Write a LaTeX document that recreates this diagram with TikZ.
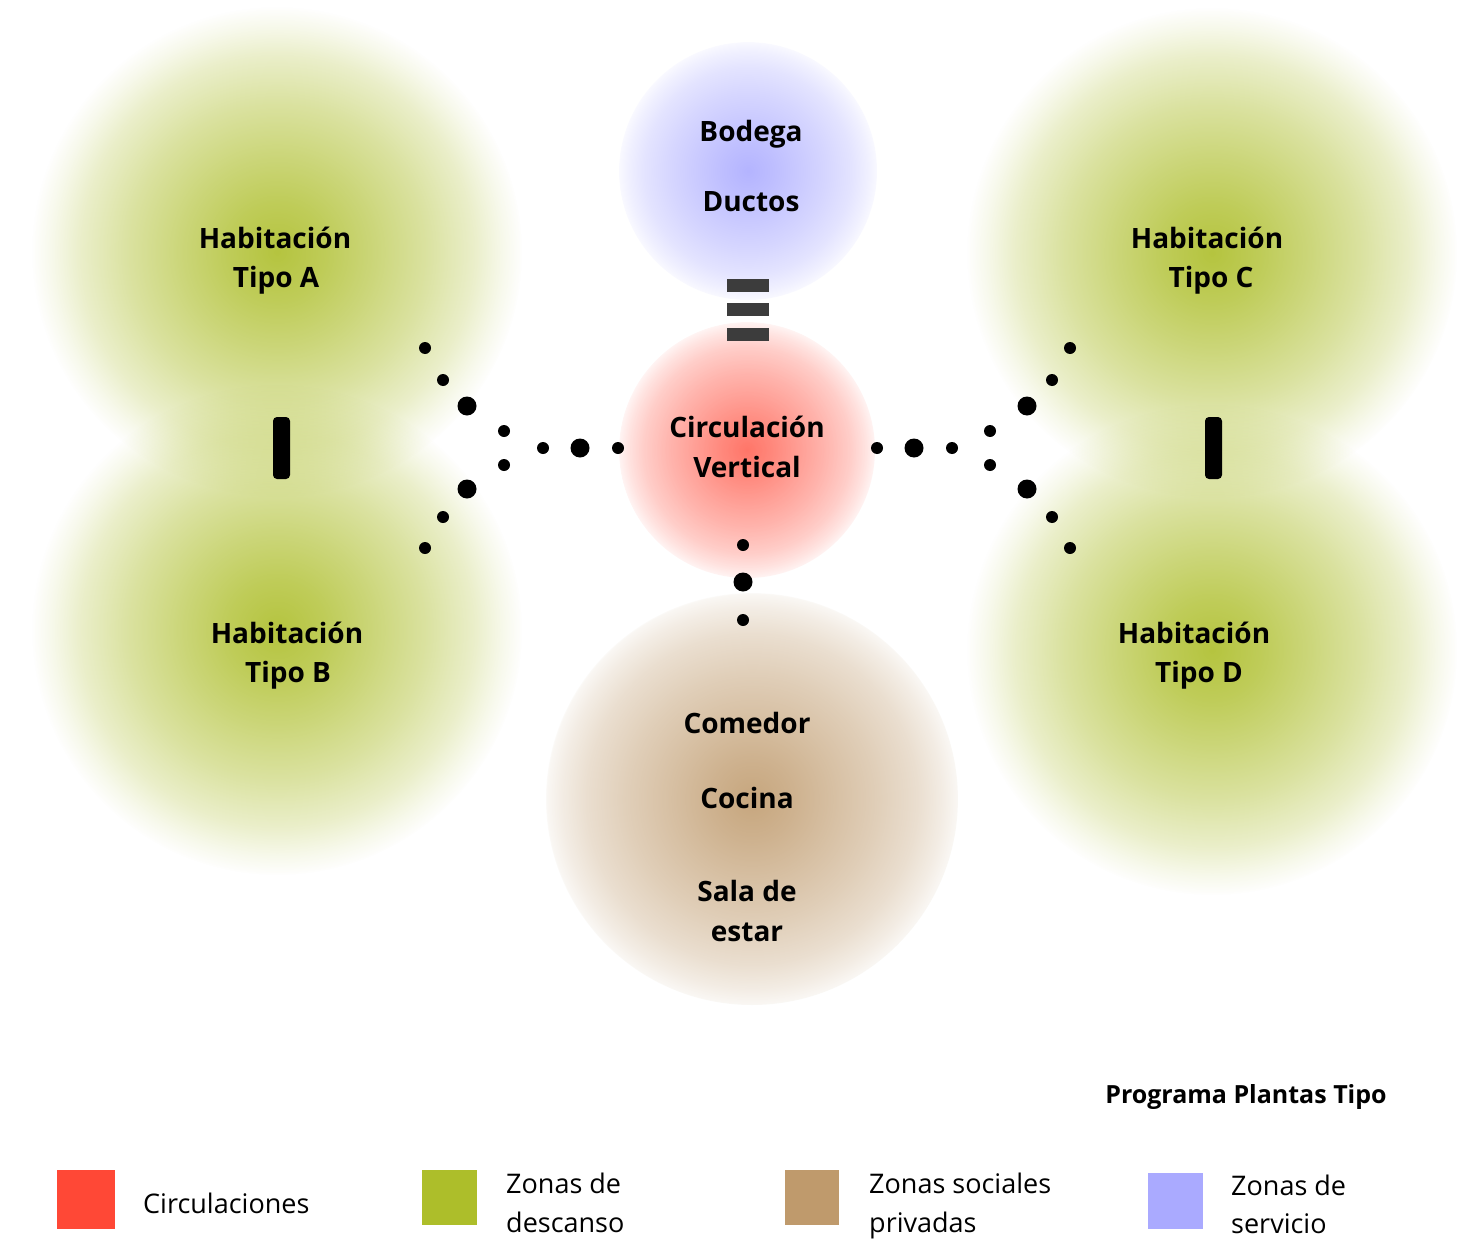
\documentclass[tikz,border=0pt]{standalone}
\usepackage{fontspec}
\setmainfont{Open Sans}
\usetikzlibrary{fadings}

% radial fade with a faint but visible rim
\pgfdeclareradialshading{rimfadeshade}{\pgfpointorigin}{%
  color(0bp)=(white!88!black);
  color(5bp)=(white!76!black);
  color(10bp)=(white!62!black);
  color(15bp)=(white!48!black);
  color(20bp)=(white!32!black);
  color(23bp)=(white!18!black);
  color(24.9bp)=(white!7!black);
  color(25bp)=(black);
  color(50bp)=(black)}
\pgfdeclarefading{rimfade}{\pgfuseshading{rimfadeshade}}

% radial fade that dies out completely at the rim
\pgfdeclareradialshading{softfadeshade}{\pgfpointorigin}{%
  color(0bp)=(white!90!black);
  color(5bp)=(white!78!black);
  color(10bp)=(white!62!black);
  color(15bp)=(white!45!black);
  color(20bp)=(white!25!black);
  color(23bp)=(white!9!black);
  color(25bp)=(black);
  color(50bp)=(black)}
\pgfdeclarefading{softfade}{\pgfuseshading{softfadeshade}}

\definecolor{circ}{HTML}{FF4836}
\definecolor{descanso}{HTML}{ADBE2A}
\definecolor{social}{HTML}{BF9A6C}
\definecolor{servicio}{HTML}{AAAAFF}
\definecolor{bargrey}{HTML}{3C3C3C}

\tikzset{
  zone/.style={fill=#1, path fading=rimfade},
  softzone/.style={fill=#1, path fading=softfade},
  lbl/.style={font=\bfseries\fontsize{28}{34}\selectfont, anchor=base, inner sep=0pt},
  leg/.style={font=\fontsize{27}{40}\selectfont, anchor=base west, inner sep=0pt},
  swatch/.style={fill=#1, draw=none},
  smalldot/.style={fill=black},
  bigdot/.style={fill=black},
}

\begin{document}
\begin{tikzpicture}[x=1pt,y=-1pt]
\useasboundingbox (0,0) rectangle (1465,1239);
\fill[white] (0,0) rectangle (1465,1239);

% zones
\fill[softzone=descanso] (277,252) circle[radius=245pt];
\fill[softzone=descanso] (277,630) circle[radius=245pt];
\fill[softzone=descanso] (1212,253) circle[radius=245pt];
\fill[softzone=descanso] (1212,650) circle[radius=245pt];
\fill[zone=servicio] (748,171) circle[radius=129pt];
\fill[zone=circ, fill opacity=0.85] (747,450) circle[radius=128pt];
\fill[zone=social] (752,799) circle[radius=206pt];

% links between rooms
\fill[black, rounded corners=4pt] (273,417) rectangle (290,479);
\fill[black, rounded corners=4pt] (1205,417) rectangle (1222,479);

% link service - circulation
\fill[bargrey] (727,279) rectangle (769,292);
\fill[bargrey] (727,303) rectangle (769,316);
\fill[bargrey] (727,328) rectangle (769,341);

% dotted links, left
\foreach \x/\y in {425/348, 443/380, 504/431, 504/465, 443/517, 425/548, 543/448, 618/448}
  \fill[smalldot] (\x,\y) circle[radius=6pt];
\foreach \x/\y in {467/406, 467/489, 580/448}
  \fill[bigdot] (\x,\y) circle[radius=9.5pt];
% dotted links, right
\foreach \x/\y in {1070/348, 1052/380, 990/431, 990/465, 1052/517, 1070/548, 877/448, 952/448}
  \fill[smalldot] (\x,\y) circle[radius=6pt];
\foreach \x/\y in {1027/406, 1027/489, 914/448}
  \fill[bigdot] (\x,\y) circle[radius=9.5pt];
% dotted link, bottom
\foreach \y in {545, 620}
  \fill[smalldot] (743,\y) circle[radius=6pt];
\fill[bigdot] (743,582) circle[radius=9.5pt];

% labels
\node[lbl] (habA1) at (275,248) {Habitación};
\node[lbl] (habA2) at (276,287) {Tipo A};
\node[lbl] (habB1) at (287,643) {Habitación};
\node[lbl] (habB2) at (288,682) {Tipo B};
\node[lbl] (habC1) at (1207,248) {Habitación};
\node[lbl] (habC2) at (1211,287) {Tipo C};
\node[lbl] (habD1) at (1194,643) {Habitación};
\node[lbl] (habD2) at (1199,682) {Tipo D};
\node[lbl] (bodega) at (751,141) {Bodega};
\node[lbl] (ductos) at (751,211) {Ductos};
\node[lbl] (circ1) at (747,437) {Circulación};
\node[lbl] (circ2) at (747,477) {Vertical};
\node[lbl] (comedor) at (747,733) {Comedor};
\node[lbl] (cocina) at (747,808) {Cocina};
\node[lbl] (sala1) at (747,901) {Sala de};
\node[lbl] (sala2) at (747,941) {estar};

% title
\node[font=\bfseries\fontsize{25}{30}\selectfont, anchor=base, inner sep=0pt] (title) at (1246,1103) {Programa Plantas Tipo};

% legend
\fill[swatch=circ] (57,1170) rectangle (115,1229);
\fill[swatch=descanso] (422,1170) rectangle (477,1225);
\fill[swatch=social] (785,1170) rectangle (839,1225);
\fill[swatch=servicio] (1148,1173) rectangle (1203,1229);
\node[leg] (legC) at (143,1213) {Circulaciones};
\node[leg] (legD1) at (506,1193) {Zonas de};
\node[leg] (legD2) at (506,1232) {descanso};
\node[leg] (legS1) at (869,1193) {Zonas sociales};
\node[leg] (legS2) at (869,1232) {privadas};
\node[leg] (legV1) at (1231,1195) {Zonas de};
\node[leg] (legV2) at (1231,1233) {servicio};
\end{tikzpicture}
\end{document}
